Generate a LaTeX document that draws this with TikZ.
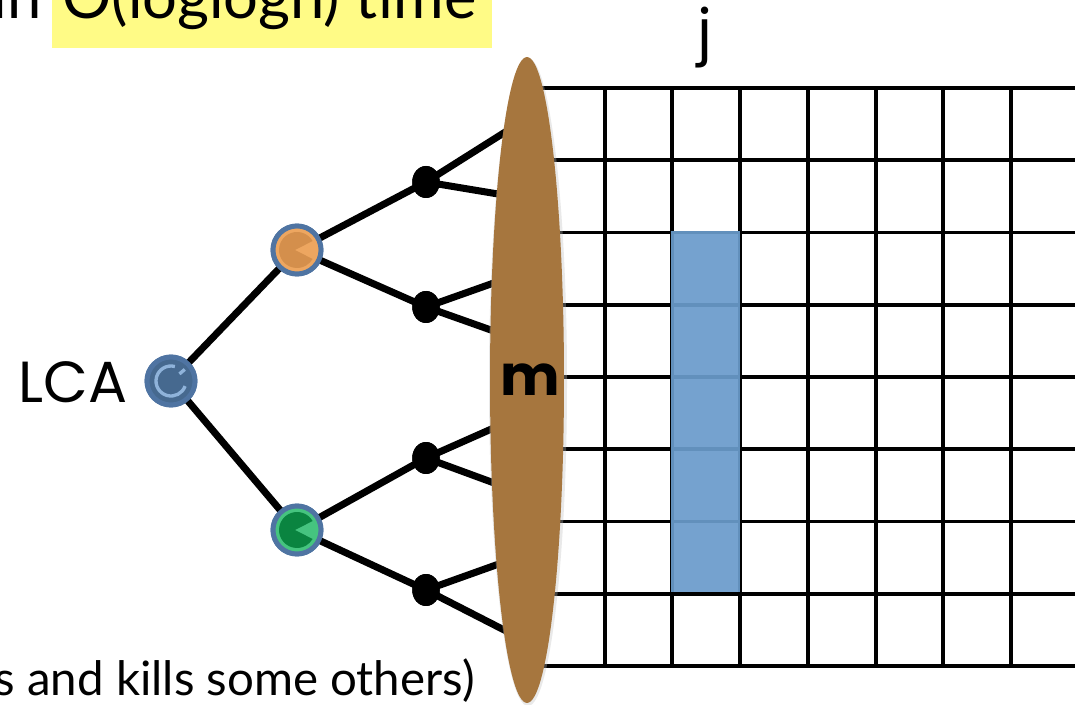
\documentclass[tikz,border=0pt]{standalone}
\usepackage{fontspec}
\setmainfont{Lato}
\newfontfamily\comicfont{Poppins}
\usetikzlibrary{shapes.geometric,calc}
\definecolor{hiyellow}{HTML}{FFFB86}
\definecolor{mbrown}{HTML}{A6763E}
\definecolor{colblue}{HTML}{6A9BCB}
\definecolor{ringblue}{HTML}{4F74A2}
\definecolor{lcafill}{HTML}{46698F}
\definecolor{lcalight}{HTML}{8FB3DA}
\definecolor{orlight}{HTML}{EDA660}
\definecolor{ordark}{HTML}{D48F4C}
\definecolor{grlight}{HTML}{45C47F}
\definecolor{grdark}{HTML}{0A8440}
\tikzset{
  edge/.style={line width=4pt, line cap=round},
  gridline/.style={line width=2pt},
  treenode/.style={circle, draw=ringblue, line width=2.8pt, minimum size=0.96cm, inner sep=0pt},
  dotnode/.style={ellipse, fill=black, minimum width=0.55cm, minimum height=0.64cm, inner sep=0pt},
  bigtext/.style={font=\fontsize{27}{30}\selectfont, inner sep=0pt},
  toptext/.style={font=\fontsize{35}{38}\selectfont, inner sep=0pt},
  comictext/.style={font=\comicfont\fontsize{33}{36}\selectfont, inner sep=0pt}
}
\begin{document}
\begin{tikzpicture}[x=0.02cm, y=-0.02cm]
\useasboundingbox (0,0) rectangle (1075,705);
\clip (0,0) rectangle (1075,705);

% grid
\foreach \yy in {88,160.25,232.5,304.75,377,449.25,521.5,593.75,666}
  \draw[gridline] (537,\yy) -- (1080,\yy);
\foreach \xx in {537,605,672,740,808,876,943,1011}
  \draw[gridline] (\xx,88) -- (\xx,666);

% column j
\fill[colblue, fill opacity=0.93] (671,231) rectangle (740,592);

% nodes
\node[treenode, fill=lcafill] (lca) at (171,381) {};
\node[treenode, fill=orlight] (or) at (297,250) {};
\node[treenode, fill=grlight] (gr) at (297,530) {};
\node[dotnode] (d1) at (426,182) {};
\node[dotnode] (d2) at (426,307) {};
\node[dotnode] (d3) at (426,458) {};
\node[dotnode] (d4) at (426,590) {};

\coordinate (e1a) at (510,129);
\coordinate (e1b) at (510,196);
\coordinate (e2a) at (505,279);
\coordinate (e2b) at (505,335);
\coordinate (e3a) at (505,423);
\coordinate (e3b) at (505,487);
\coordinate (e4a) at (510,560);
\coordinate (e4b) at (510,633);

% edges
\draw[edge] (lca) -- (or);
\draw[edge] (lca) -- (gr);
\draw[edge] (or) -- (d1.center);
\draw[edge] (or) -- (d2.center);
\draw[edge] (gr) -- (d3.center);
\draw[edge] (gr) -- (d4.center);
\draw[edge] (d1.center) -- (e1a);
\draw[edge] (d1.center) -- (e1b);
\draw[edge] (d2.center) -- (e2a);
\draw[edge] (d2.center) -- (e2b);
\draw[edge] (d3.center) -- (e3a);
\draw[edge] (d3.center) -- (e3b);
\draw[edge] (d4.center) -- (e4a);
\draw[edge] (d4.center) -- (e4b);

% redraw nodes on top of edges
\node[treenode, fill=lcafill] at (lca) {};
\node[treenode, fill=orlight] at (or) {};
\node[treenode, fill=grlight] at (gr) {};
\node[dotnode] at (d1) {};
\node[dotnode] at (d2) {};
\node[dotnode] at (d3) {};
\node[dotnode] at (d4) {};

% inner decorations
\begin{scope}[shift={(or.center)}, x=0.02cm, y=0.02cm]
  \fill[ordark] (-2,0) -- (30:18) arc (30:330:18) -- cycle;
\end{scope}
\begin{scope}[shift={(gr.center)}, x=0.02cm, y=0.02cm]
  \fill[grdark] (-2,0) -- (30:18) arc (30:330:18) -- cycle;
\end{scope}
\begin{scope}[shift={(lca.center)}, x=0.02cm, y=0.02cm]
  \draw[lcalight, line width=1.9pt] (75:15) arc (75:340:15);
  \draw[lcalight, line width=1.9pt] (40:11) -- (40:18);
\end{scope}

% the m ellipse
\fill[black!25, opacity=0.35] (528,382) ellipse (39 and 324);
\node[ellipse, fill=mbrown, minimum width=1.48cm, minimum height=12.92cm, inner sep=0pt] (m) at (527,380) {};
\node[comictext, font=\comicfont\bfseries\fontsize{32}{34}\selectfont] (mlab) at (530,380) {m};

% labels
\node[comictext, anchor=east] (lcalab) at (128,382) {LCA};
\node[comictext, font=\comicfont\fontsize{34}{36}\selectfont] (jlab) at (705,38) {j};

% top text
\fill[hiyellow] (52,-5) rectangle (492,48);
\node[toptext, anchor=base west] (top) at (62,19) {O(loglogn) time};
\node[toptext, anchor=base east] (topin) at (42,19) {in};

% bottom text
\node[bigtext, anchor=base east] (bot) at (475,695) {s and kills some others)};
\end{tikzpicture}
\end{document}
